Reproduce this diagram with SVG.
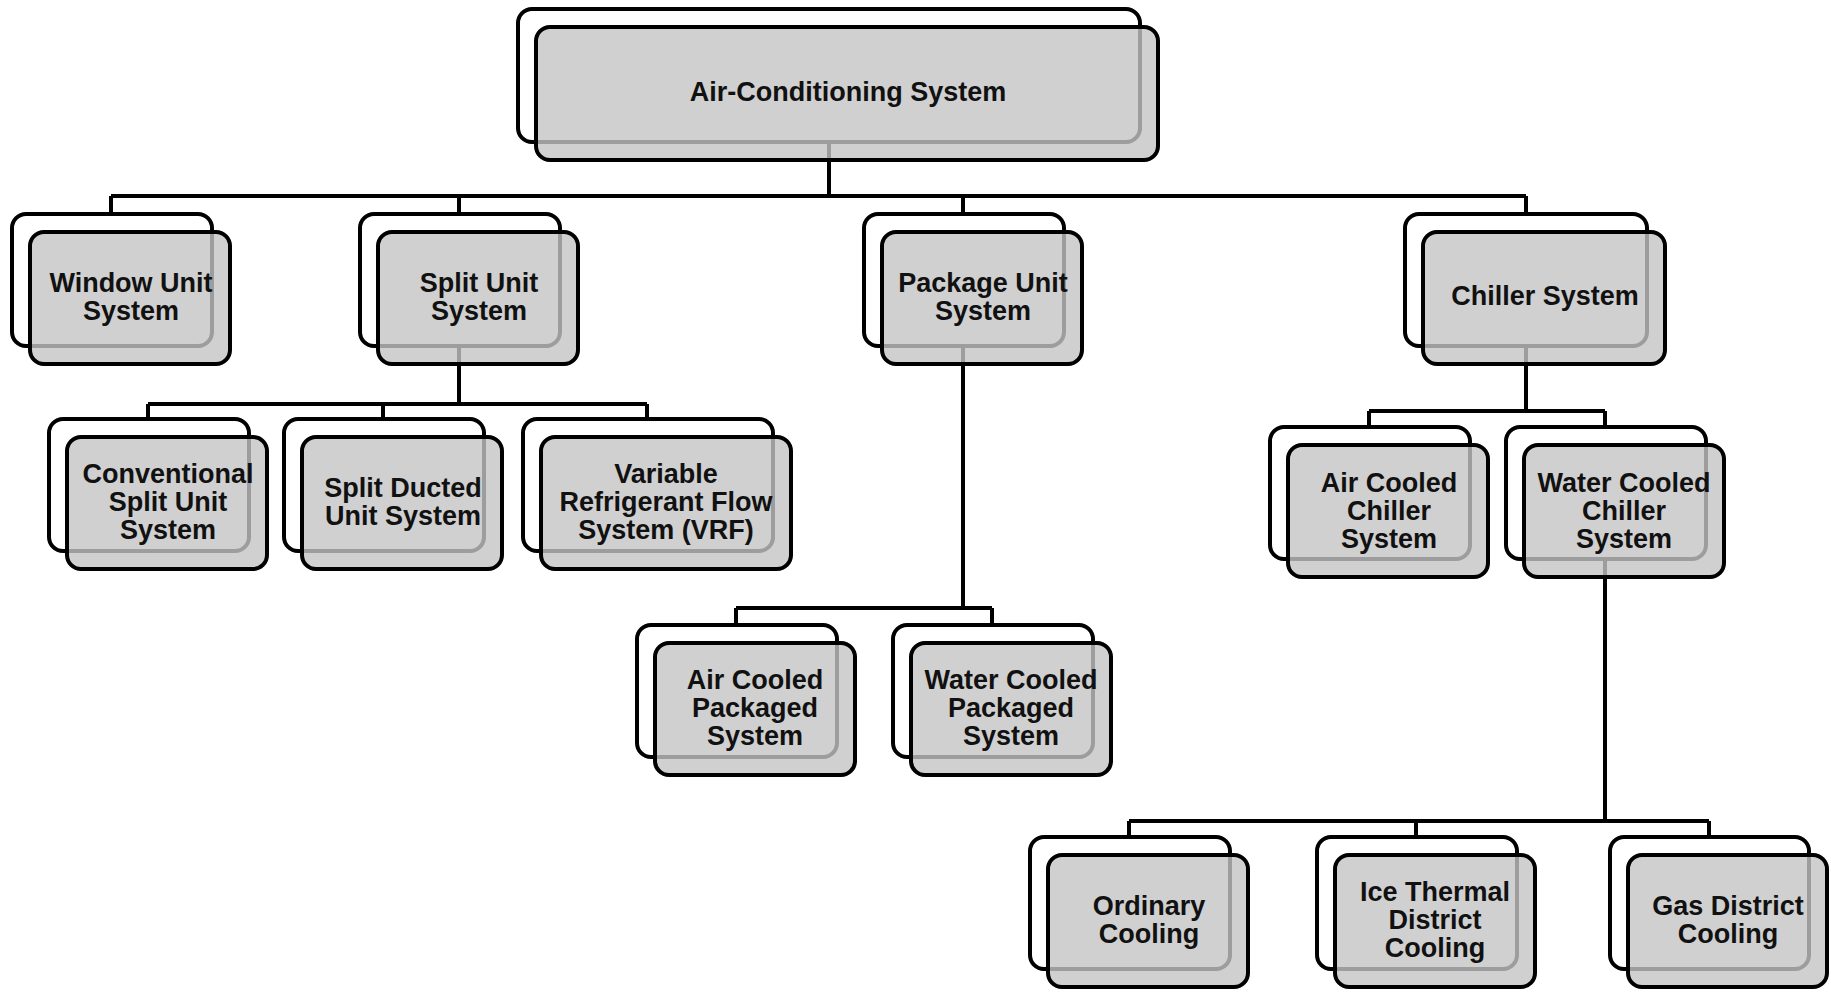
<svg xmlns="http://www.w3.org/2000/svg" width="1831" height="993" viewBox="0 0 1831 993">
<style>
.back{fill:#fff;stroke:#000;stroke-width:4}
.front{fill:#c4c4c4;fill-opacity:0.8;stroke:#000;stroke-width:4}
.lbl{font-family:"Liberation Sans",Arial,sans-serif;font-weight:bold;font-size:27px;text-anchor:middle;fill:#111}
.conn{stroke:#000;stroke-width:4;fill:none}
</style>
<rect width="1831" height="993" fill="#fff"/>
<g id="connectors" class="conn">
<path d="M829 142V196M111 196H1526M111 196V214M459 196V214M963 196V214M1526 196V214"/>
<path d="M459 346V404M148 404H647M148 404V419M383 404V419M647 404V419"/>
<path d="M963 346V608M736 608H992M736 608V625M992 608V625"/>
<path d="M1526 346V411M1369 411H1605M1369 411V427M1605 411V427"/>
<path d="M1605 559V821M1129 821H1709M1129 821V837M1416 821V837M1709 821V837"/>
</g>
<g id="root">
<rect class="back" x="518" y="9" width="622" height="133" rx="14"/>
<rect class="front" x="536" y="27" width="622" height="133" rx="14"/>
<text class="lbl" x="848" y="101">Air-Conditioning System</text>
</g>
<g id="window">
<rect class="back" x="12" y="214" width="200" height="132" rx="14"/>
<rect class="front" x="30" y="232" width="200" height="132" rx="14"/>
<text class="lbl" x="131" y="292">Window Unit</text>
<text class="lbl" x="131" y="320">System</text>
</g>
<g id="split">
<rect class="back" x="360" y="214" width="200" height="132" rx="14"/>
<rect class="front" x="378" y="232" width="200" height="132" rx="14"/>
<text class="lbl" x="479" y="292">Split Unit</text>
<text class="lbl" x="479" y="320">System</text>
</g>
<g id="package">
<rect class="back" x="864" y="214" width="200" height="132" rx="14"/>
<rect class="front" x="882" y="232" width="200" height="132" rx="14"/>
<text class="lbl" x="983" y="292">Package Unit</text>
<text class="lbl" x="983" y="320">System</text>
</g>
<g id="chiller">
<rect class="back" x="1405" y="214" width="242" height="132" rx="14"/>
<rect class="front" x="1423" y="232" width="242" height="132" rx="14"/>
<text class="lbl" x="1545" y="305">Chiller System</text>
</g>
<g id="conventional">
<rect class="back" x="49" y="419" width="200" height="132" rx="14"/>
<rect class="front" x="67" y="437" width="200" height="132" rx="14"/>
<text class="lbl" x="168" y="483">Conventional</text>
<text class="lbl" x="168" y="511">Split Unit</text>
<text class="lbl" x="168" y="539">System</text>
</g>
<g id="ducted">
<rect class="back" x="284" y="419" width="200" height="132" rx="14"/>
<rect class="front" x="302" y="437" width="200" height="132" rx="14"/>
<text class="lbl" x="403" y="497">Split Ducted</text>
<text class="lbl" x="403" y="525">Unit System</text>
</g>
<g id="vrf">
<rect class="back" x="523" y="419" width="250" height="132" rx="14"/>
<rect class="front" x="541" y="437" width="250" height="132" rx="14"/>
<text class="lbl" x="666" y="483">Variable</text>
<text class="lbl" x="666" y="511">Refrigerant Flow</text>
<text class="lbl" x="666" y="539">System (VRF)</text>
</g>
<g id="aircooled-packaged">
<rect class="back" x="637" y="625" width="200" height="132" rx="14"/>
<rect class="front" x="655" y="643" width="200" height="132" rx="14"/>
<text class="lbl" x="755" y="689">Air Cooled</text>
<text class="lbl" x="755" y="717">Packaged</text>
<text class="lbl" x="755" y="745">System</text>
</g>
<g id="watercooled-packaged">
<rect class="back" x="893" y="625" width="200" height="132" rx="14"/>
<rect class="front" x="911" y="643" width="200" height="132" rx="14"/>
<text class="lbl" x="1011" y="689">Water Cooled</text>
<text class="lbl" x="1011" y="717">Packaged</text>
<text class="lbl" x="1011" y="745">System</text>
</g>
<g id="aircooled-chiller">
<rect class="back" x="1270" y="427" width="200" height="132" rx="14"/>
<rect class="front" x="1288" y="445" width="200" height="132" rx="14"/>
<text class="lbl" x="1389" y="492">Air Cooled</text>
<text class="lbl" x="1389" y="520">Chiller</text>
<text class="lbl" x="1389" y="548">System</text>
</g>
<g id="watercooled-chiller">
<rect class="back" x="1506" y="427" width="200" height="132" rx="14"/>
<rect class="front" x="1524" y="445" width="200" height="132" rx="14"/>
<text class="lbl" x="1624" y="492">Water Cooled</text>
<text class="lbl" x="1624" y="520">Chiller</text>
<text class="lbl" x="1624" y="548">System</text>
</g>
<g id="ordinary">
<rect class="back" x="1030" y="837" width="200" height="132" rx="14"/>
<rect class="front" x="1048" y="855" width="200" height="132" rx="14"/>
<text class="lbl" x="1149" y="915">Ordinary</text>
<text class="lbl" x="1149" y="943">Cooling</text>
</g>
<g id="ice-thermal">
<rect class="back" x="1317" y="837" width="200" height="132" rx="14"/>
<rect class="front" x="1335" y="855" width="200" height="132" rx="14"/>
<text class="lbl" x="1435" y="901">Ice Thermal</text>
<text class="lbl" x="1435" y="929">District</text>
<text class="lbl" x="1435" y="957">Cooling</text>
</g>
<g id="gas-district">
<rect class="back" x="1610" y="837" width="199" height="132" rx="14"/>
<rect class="front" x="1628" y="855" width="199" height="132" rx="14"/>
<text class="lbl" x="1728" y="915">Gas District</text>
<text class="lbl" x="1728" y="943">Cooling</text>
</g>
</svg>
